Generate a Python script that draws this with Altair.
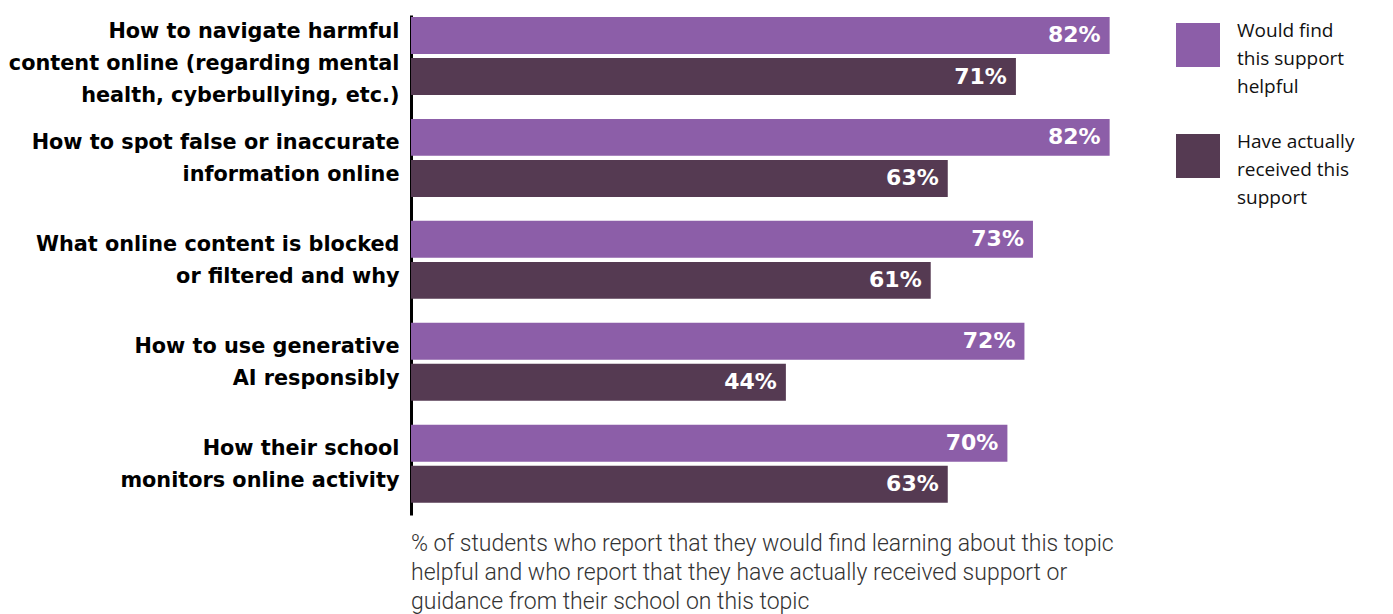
import altair as alt
import pandas as pd

topics = [
    "How to navigate harmful|content online (regarding mental|health, cyberbullying, etc.)",
    "How to spot false or inaccurate|information online",
    "What online content is blocked|or filtered and why",
    "How to use generative|AI responsibly",
    "How their school|monitors online activity",
]
series = ["Would find|this support|helpful", "Have actually|received this|support"]
helpful = [82, 82, 73, 72, 70]
received = [71, 63, 61, 44, 63]
colors = ["#8C5EA8", "#553A52"]
caption = [
    "% of students who report that they would find learning about this topic",
    "helpful and who report that they have actually received support or",
    "guidance from their school on this topic",
]

rows = []
for t, h, r in zip(topics, helpful, received):
    rows.append({"topic": t, "series": series[0], "value": h, "label": f"{h}%"})
    rows.append({"topic": t, "series": series[1], "value": r, "label": f"{r}%"})
df = pd.DataFrame(rows)

y = alt.Y(
    "topic:N",
    sort=topics,
    scale=alt.Scale(paddingInner=0.235, paddingOuter=0.07, align=0.14),
    axis=alt.Axis(
        title=None,
        labelExpr="split(datum.label, '|')",
        ticks=False,
        domain=True,
        domainColor="black",
        domainWidth=3,
        labelFont="DejaVu Sans",
        labelFontWeight="bold",
        labelFontSize=20.8,
        labelColor="black",
        labelLineHeight=32,
        labelBaseline="middle",
        labelPadding=12,
        labelLimit=600,
        labelOffset={
            "condition": {"test": "length(split(datum.value, '|')) > 2", "value": -24},
            "value": -15,
        },
    ),
)
x = alt.X("value:Q", scale=alt.Scale(domain=[0, 100]), axis=None)
yoff = alt.YOffset("series:N", sort=series, scale=alt.Scale(paddingInner=0.1))

base = alt.Chart(df)
bars = base.mark_bar().encode(
    y=y,
    x=x,
    yOffset=yoff,
    color=alt.Color(
        "series:N",
        sort=series,
        scale=alt.Scale(domain=series, range=colors),
        legend=alt.Legend(
            orient="none",
            legendX=765,
            legendY=8,
            title=None,
            symbolType="square",
            symbolSize=1936,
            symbolStrokeWidth=0,
            symbolOpacity=1,
            labelExpr="split(datum.label, '|')",
            labelFont="Open Sans",
            labelFontSize=19,
            labelColor="#111111",
            labelBaseline="line-bottom",
            labelOffset=17,
            labelLimit=300,
            rowPadding=36,
        ),
    ),
)
text = base.mark_text(
    align="right", baseline="middle", dx=-9, color="white",
    font="DejaVu Sans", fontWeight="bold", fontSize=22,
).encode(y=alt.Y("topic:N", sort=topics), x=x, yOffset=yoff, text="label:N")

chart = (
    alt.layer(bars, text)
    .properties(
        width=852,
        height=500,
        padding={"left": 0, "top": 7, "right": 5, "bottom": 5},
        title=alt.TitleParams(
            text=caption,
            orient="bottom",
            anchor="start",
            frame="group",
            font="Roboto",
            fontWeight=300,
            fontSize=23,
            lineHeight=29,
            color="#333333",
            offset=18,
        ),
    )
    .configure(style={"guide-label": {"lineHeight": 28}})
    .configure_view(stroke=None)
)
chart.save("out.html", embed_options={"renderer": "svg", "actions": False})
